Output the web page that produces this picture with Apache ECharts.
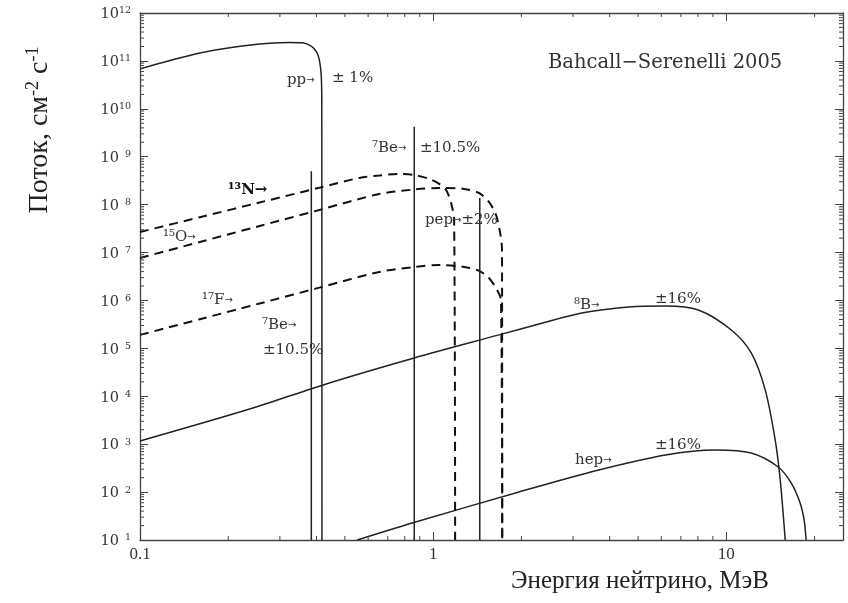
<!DOCTYPE html>
<html><head><meta charset="utf-8">
<script src="https://cdn.jsdelivr.net/npm/echarts@6/dist/echarts.min.js"></script>
<style>html,body{margin:0;padding:0;background:#fff}#c{width:848px;height:603px}</style>
</head><body><div id="c"></div>
<script>
// ---- data (energy MeV, flux cm^-2 s^-1 MeV^-1) ----
const ppData = [[0.100,6.81e10],[0.1265,1.02e11],[0.160,1.47e11],[0.2104,1.96e11],[0.2768,2.34e11],[0.3236,2.43e11],[0.358,2.38e11],[0.3845,2.01e11],[0.400,1.54e11],[0.409,1.05e11],[0.4150,5.1e10],[0.4169,1.5e10],[0.4175,10]];
const n13Data = [[0.1,2.69e7],[0.160,5.46e7],[0.256,1.11e8],[0.409,2.25e8],[0.560,3.61e8],[0.655,4.07e8],[0.766,4.38e8],[0.862,4.17e8],[0.969,3.44e8],[1.048,2.71e8],[1.107,2.03e8],[1.151,1.08e8],[1.179,4.80e7],[1.188,10]];
const o15Data = [[0.1,7.71e6],[0.160,1.66e7],[0.256,3.59e7],[0.409,7.74e7],[0.655,1.67e8],[0.862,2.07e8],[1.048,2.23e8],[1.275,2.13e8],[1.434,1.75e8],[1.550,1.14e8],[1.638,6.10e7],[1.690,2.69e7],[1.717,1.13e7],[1.720,10]];
const f17Data = [[0.1,1.91e5],[0.160,4.06e5],[0.256,8.65e5],[0.409,1.85e6],[0.655,3.93e6],[0.862,5.00e6],[1.048,5.51e6],[1.275,5.00e6],[1.434,4.13e6],[1.550,2.95e6],[1.651,1.66e6],[1.703,1.03e6],[1.720,10]];
const b8Data = [[0.1,1.17e3],[0.2365,5.43e3],[0.4425,1.90e4],[0.862,6.31e4],[1.677,1.91e5],[2.294,3.23e5],[3.212,5.48e5],[4.642,7.31e5],[6.201,7.68e5],[8.03,6.34e5],[10.40,2.42e5],[12.16,8.02e4],[13.57,1.36e4],[14.68,1.22e3],[15.27,179],[15.88,10]];
const hepData = [[0.551,10],[0.848,22.6],[1.961,100.5],[3.669,289],[6.201,596],[9.175,757],[12.16,655],[15.03,334],[16.64,155],[17.85,59.2],[18.42,26.2],[18.71,10]];
const lineEnergies = [0.384, 0.862, 1.442];   // 7Be, 7Be, pep
const lineFluxes   = [5.0e8, 4.2e9, 1.38e8];
const xMinorTicks = [0.2,0.3,0.4,0.5,0.6,0.7,0.8,0.9,2,3,4,5,6,7,8,9,20];
const yDecades = [1,2,3,4,5,6,7,8,9,10,11,12];

const yMinorTicks = [];
yDecades.slice(0,-1).forEach(d => { for (let k=2;k<=9;k++) yMinorTicks.push(k*Math.pow(10,d)); });

const chart = echarts.init(document.getElementById('c'), null, {renderer:'canvas'});
const solid = {color:'#222', width:1.5, type:'solid'};
const dashed = {color:'#111', width:2, type:[9,6]};

function lineSeries(data, style, smooth){
  return {type:'line', data, showSymbol:false, symbol:'none', smooth:smooth||false,
          lineStyle:style, clip:true, silent:true, z:3};
}
const lineSpectra = lineEnergies.map((e,i)=>lineSeries([[e,lineFluxes[i]],[e,10]], solid));

const tickData = xMinorTicks.map(v=>[v,1e6,0]).concat(yMinorTicks.map(v=>[1,v,1]));

const supRich = {
  b:{fontFamily:'DejaVu Serif', fontSize:14.5, color:'#333', verticalAlign:'bottom', lineHeight:18, padding:[3,0,0,0]},
  s:{fontFamily:'DejaVu Serif', fontSize:9.5, color:'#333', verticalAlign:'bottom', lineHeight:18, padding:[0,0,6,0]}
};

const annFont = '15px "DejaVu Serif"';
const annRich = {
  a:{font:'10px "DejaVu Sans"', fill:'#333'},
  bN:{font:'bold 15px "DejaVu Serif"', fill:'#111'}
};
function ann(x,y,text,font){
  return {type:'text', x, y, z:10, style:{text, font:font||annFont, fill:'#333', textVerticalAlign:'middle', rich:annRich}};
}
const axisLineStyle = {color:'#444', width:1.3};
const tickStyle = {color:'#444'};

const option = {
  animation:false,
  backgroundColor:'#fff',
  grid:{left:140, top:13, right:5, bottom:63, show:false},
  xAxis:[
    {type:'log', min:0.1, max:25, logBase:10, interval:1, splitNumber:3,
     axisLine:{show:true, lineStyle:axisLineStyle},
     axisTick:{show:true, inside:true, length:8, lineStyle:tickStyle},
     axisLabel:{show:true, margin:6, fontFamily:'Liberation Serif', fontSize:17, color:'#333',
       formatter:v=>{const l=Math.log10(v); return Math.abs(l-Math.round(l))<1e-6 ? String(+v.toPrecision(3)) : '';}},
     splitLine:{show:false}},
    {type:'log', min:0.1, max:25, logBase:10, interval:1, splitNumber:3, position:'top',
     axisLine:{show:true, lineStyle:axisLineStyle},
     axisTick:{show:true, inside:true, length:8, lineStyle:tickStyle},
     axisLabel:{show:false}, splitLine:{show:false}}
  ],
  yAxis:[
    {type:'log', min:10, max:1e12, logBase:10, interval:1, splitNumber:11,
     axisLine:{show:true, lineStyle:axisLineStyle},
     axisTick:{show:true, inside:true, length:8, lineStyle:tickStyle},
     axisLabel:{show:true, margin:9, rich:supRich,
       formatter:v=>{const e=Math.round(Math.log10(v)); return '{b|10}{s|'+(e<10?'\u2007'+e:e)+'}';}},
     splitLine:{show:false}},
    {type:'log', min:10, max:1e12, logBase:10, interval:1, splitNumber:11, position:'right',
     axisLine:{show:true, lineStyle:axisLineStyle},
     axisTick:{show:true, inside:true, length:8, lineStyle:tickStyle},
     axisLabel:{show:false}, splitLine:{show:false}}
  ],
  series:[
    lineSeries(ppData, solid, 0.3),
    lineSeries(b8Data, solid, 0.3),
    lineSeries(hepData, solid, 0.3),
    lineSeries(n13Data, dashed, 0.3),
    lineSeries(o15Data, dashed, 0.3),
    lineSeries(f17Data, dashed, 0.3),
    ...lineSpectra,
    {type:'custom', data:tickData, silent:true, z:4, clip:false,
     renderItem:(params, api)=>{
       const cs = params.coordSys;
       const kind = api.value(2);
       const p = api.coord([api.value(0), api.value(1)]);
       const st = {stroke:'#444', lineWidth:1};
       if (kind===0){
         return {type:'group', children:[
           {type:'line', shape:{x1:p[0],y1:cs.y+cs.height,x2:p[0],y2:cs.y+cs.height-4}, style:st},
           {type:'line', shape:{x1:p[0],y1:cs.y,x2:p[0],y2:cs.y+4}, style:st}]};
       }
       return {type:'group', children:[
         {type:'line', shape:{x1:cs.x,y1:p[1],x2:cs.x+4,y2:p[1]}, style:st},
         {type:'line', shape:{x1:cs.x+cs.width,y1:p[1],x2:cs.x+cs.width-4,y2:p[1]}, style:st}]};
     }}
  ],
  graphic:[
    ann(287,80,'pp{a|→}'),
    ann(332,78,'± 1%'),
    ann(548,63,'Bahcall−Serenelli 2005','19.5px "DejaVu Serif"'),
    ann(372,148,'⁷Be{a|→}'),
    ann(420,148,'±10.5%'),
    ann(425,220,'pep{a|→}±2%'),
    ann(228,190,'{bN|¹³N→}'),
    ann(163,237,'¹⁵O{a|→}'),
    ann(202,300,'¹⁷F{a|→}'),
    ann(262,325,'⁷Be{a|→}'),
    ann(263,350,'±10.5%'),
    ann(574,305,'⁸B{a|→}'),
    ann(655,299,'±16%'),
    ann(575,460,'hep{a|→}'),
    ann(655,445,'±16%'),
    {type:'text', x:40, y:130, rotation:Math.PI/2, z:10,
     style:{text:'Поток, см{s|-2} с{s|-1}', font:'28px "Liberation Serif"', fill:'#222', textAlign:'center', textVerticalAlign:'middle',
       rich:{s:{font:'18px "Liberation Serif"', fill:'#222', padding:[0,0,13,0]}}}},
    {type:'text', x:640, y:581, z:10,
     style:{text:'Энергия нейтрино, МэВ', font:'25px "Liberation Serif"', fill:'#222', textAlign:'center', textVerticalAlign:'middle'}}
  ]
};
chart.setOption(option);
</script>
</body></html>
